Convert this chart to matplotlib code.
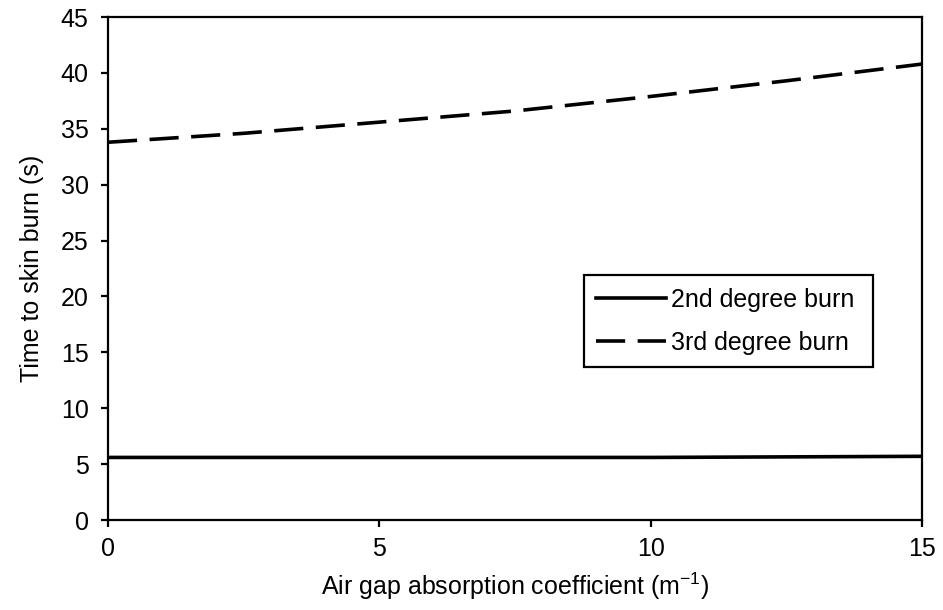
import matplotlib
matplotlib.use('Agg')
import matplotlib.pyplot as plt
import numpy as np

plt.rcParams['font.family'] = ['Liberation Sans', 'DejaVu Sans']
plt.rcParams['mathtext.fontset'] = 'custom'
plt.rcParams['mathtext.rm'] = 'Liberation Sans'
plt.rcParams['mathtext.it'] = 'Liberation Sans'
plt.rcParams['lines.scale_dashes'] = False

# absorption coefficient (1/m)
coef = [0, 2.5, 5, 7.5, 10, 12.5, 15]
# time to burn (s)
burn2 = [5.6, 5.6, 5.6, 5.6, 5.6, 5.65, 5.7]
burn3 = [33.8, 34.6, 35.6, 36.6, 37.9, 39.3, 40.8]

fig = plt.figure(figsize=(9.43, 6.1), dpi=100)
ax = fig.add_axes([0.1145, 0.1475, 0.8635, 0.8245])

ax.plot(coef, burn2, color='black', lw=2.6, label='2nd degree burn')
ax.plot(coef, burn3, color='black', lw=2.6, linestyle=(0, (21, 9)),
        label='3rd degree burn')

ax.set_xlim(0, 15)
ax.set_ylim(0, 45)
ax.set_xticks(np.arange(0, 16, 5))
ax.set_yticks(np.arange(0, 46, 5))
for s in ax.spines.values():
    s.set_linewidth(1.6)
ax.tick_params(direction='out', length=5, width=1.6, labelsize=18)
ax.tick_params(axis='y', pad=9)
ax.tick_params(axis='x', pad=7)

ax.set_xlabel('Air gap absorption coefficient (m$^{-1}$)', fontsize=18, labelpad=7)
ax.set_ylabel('Time to skin burn (s)', fontsize=18, labelpad=12)

leg = ax.legend(loc='lower left', bbox_to_anchor=(0.584, 0.304, 0.356, 0.189),
                mode='expand', fontsize=18, handlelength=2.8, handletextpad=0.2,
                labelspacing=0.75, borderpad=0.5, fancybox=False, framealpha=1,
                edgecolor='black', borderaxespad=0)
leg.get_frame().set_linewidth(1.6)

fig.savefig('out.png', dpi=100)
